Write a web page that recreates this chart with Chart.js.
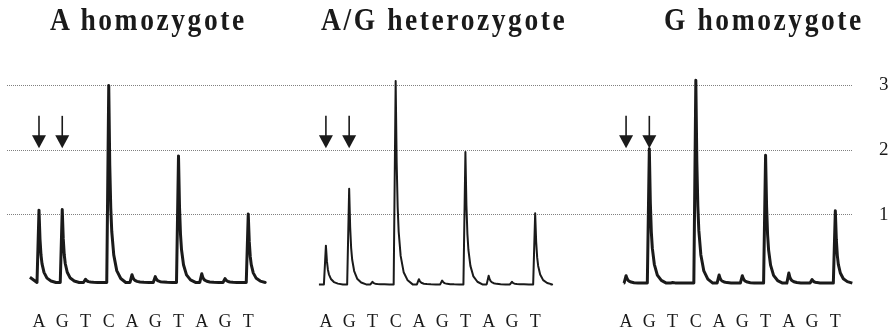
<!DOCTYPE html>
<html>
<head>
<meta charset="utf-8">
<script src="https://cdn.jsdelivr.net/npm/chart.js@4.4.1/dist/chart.umd.min.js"></script>
<style>
  body { margin: 0; background: #fff; }
  #wrap { position: relative; width: 896px; height: 336px; }
  canvas { position: absolute; left: 0; top: 0; }
  .titulo {
    position: absolute; top: 3px;
    font-family: 'Liberation Serif', 'Times New Roman', serif;
    font-weight: bold; font-size: 32px; line-height: 32px;
    letter-spacing: 3px; color: #1a1a1a; white-space: nowrap;
    transform: scaleX(0.86); transform-origin: left top;
  }
</style>
</head>
<body>
<div id="wrap">
  <canvas id="pyrograma" width="896" height="336"></canvas>
</div>
<script>
// ordem de dispensacao dos nucleotideos (igual nos tres paineis)
var dispensacao = ['A', 'G', 'T', 'C', 'A', 'G', 'T', 'A', 'G', 'T'];
var titulos = ['A homozygote', 'A/G heterozygote', 'G homozygote'];

// altura dos picos de cada painel
var picosA  = [1.07, 1.08, 0.00, 3.00, 0.07, 0.04, 1.91, 0.085, 0.01, 1.01];
var picosAG = [0.52, 1.40, -0.04, 3.07, 0.00, -0.02, 1.97, 0.055, -0.04, 1.02];
var picosG  = [0.055, 2.02, -0.05, 3.08, 0.065, 0.055, 1.92, 0.095, -0.005, 1.06];

// nivel da linha de base e nivel no inicio do traco
var linhaBase = [-0.05, -0.08, -0.06];
var nivelInicio = [0.03, -0.08, -0.06];

var ticksY = [1, 2, 3];
var posSetas = [0, 1];

// layout: onde cada painel comeca no eixo x (em unidades de dispensacao)
var inicioPainel = [0, 12.34, 25.25];
var inicioTraco = [-0.39, -0.30, -0.10];
var fimTraco = [9.72, 9.66, 9.75];
var esquerdaTitulo = [50, 321, 664];

// formato de um pico: subida rapida e cauda que decai
var perfil = [[-0.086, 0], [0, 1], [0.043, 0.6], [0.086, 0.38], [0.129, 0.26],
              [0.215, 0.14], [0.344, 0.06], [0.516, 0.02], [0.731, 0]];

function montarTraco(picos, p) {
    var base = linhaBase[p];
    var off = inicioPainel[p];
    var pts = [{ x: off + inicioTraco[p], y: nivelInicio[p] }];
    picos.forEach(function (h, i) {
        perfil.forEach(function (f) {
            pts.push({ x: off + i + f[0], y: base + (h - base) * f[1] });
        });
    });
    pts.push({ x: off + fimTraco[p], y: base });
    return pts;
}

var posTicksX = [];
inicioPainel.forEach(function (off) {
    dispensacao.forEach(function (d, i) { posTicksX.push(off + i); });
});

var wrap = document.getElementById('wrap');
titulos.forEach(function (t, i) {
    var div = document.createElement('div');
    div.className = 'titulo';
    div.style.left = esquerdaTitulo[i] + 'px';
    div.textContent = t;
    wrap.appendChild(div);
});

var setas = {
    id: 'setas',
    afterDatasetsDraw: function (chart) {
        var ctx = chart.ctx;
        var x = chart.scales.x, y = chart.scales.y;
        ctx.save();
        ctx.fillStyle = '#1a1a1a';
        ctx.strokeStyle = '#1a1a1a';
        ctx.lineWidth = 1.6;
        inicioPainel.forEach(function (off) {
            posSetas.forEach(function (i) {
                var px = x.getPixelForValue(off + i);
                var topo = y.getPixelForValue(2.53);
                var cab = y.getPixelForValue(2.23);
                var ponta = y.getPixelForValue(2.03);
                ctx.beginPath();
                ctx.moveTo(px, topo);
                ctx.lineTo(px, cab + 1);
                ctx.stroke();
                ctx.beginPath();
                ctx.moveTo(px - 7, cab);
                ctx.lineTo(px + 7, cab);
                ctx.lineTo(px, ponta);
                ctx.closePath();
                ctx.fill();
            });
        });
        ctx.restore();
    }
};

var fonteSerif = "'Liberation Serif', 'Times New Roman', serif";

new Chart(document.getElementById('pyrograma'), {
    type: 'line',
    data: {
        datasets: [
            { data: montarTraco(picosA, 0), borderColor: '#1a1a1a', borderWidth: 3 },
            { data: montarTraco(picosAG, 1), borderColor: '#1a1a1a', borderWidth: 2 },
            { data: montarTraco(picosG, 2), borderColor: '#1a1a1a', borderWidth: 3 }
        ]
    },
    options: {
        responsive: false,
        animation: false,
        layout: { padding: { left: 7, right: 0, top: 60, bottom: 3 } },
        elements: { point: { radius: 0 }, line: { tension: 0, borderJoinStyle: 'round' } },
        plugins: { legend: { display: false }, tooltip: { enabled: false } },
        scales: {
            x: {
                type: 'linear',
                min: -1.376,
                max: 35.01,
                grid: { display: false, drawTicks: false },
                border: { display: false },
                afterBuildTicks: function (axis) {
                    axis.ticks = posTicksX.map(function (v) { return { value: v }; });
                },
                afterFit: function (axis) { axis.height = 29.6; },
                ticks: {
                    autoSkip: false,
                    maxRotation: 0,
                    padding: 13,
                    color: '#1a1a1a',
                    font: { family: fonteSerif, size: 18 },
                    callback: function (v, i) { return dispensacao[i % dispensacao.length]; }
                }
            },
            y: {
                position: 'right',
                min: -0.30,
                max: 3.395,
                grid: { color: '#808080', lineWidth: 1, drawTicks: false },
                border: { display: false, dash: [1, 1] },
                afterBuildTicks: function (axis) {
                    axis.ticks = ticksY.map(function (v) { return { value: v }; });
                },
                afterFit: function (axis) { axis.width = 43; },
                ticks: {
                    padding: 26,
                    color: '#1a1a1a',
                    font: { family: fonteSerif, size: 19 }
                }
            }
        }
    },
    plugins: [setas]
});
</script>
</body>
</html>
